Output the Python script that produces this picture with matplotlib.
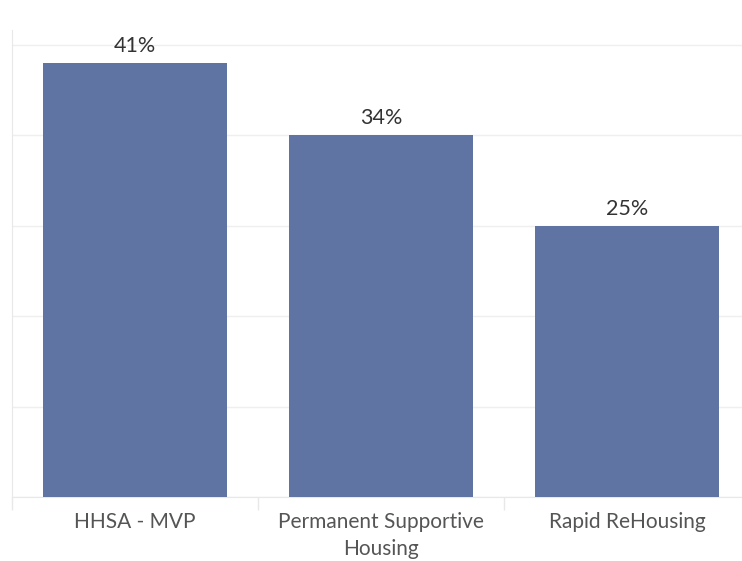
import numpy as np
import matplotlib.pyplot as plt
from matplotlib.ticker import MultipleLocator, FixedLocator

programs = ['HHSA - MVP', 'Permanent Supportive\nHousing', 'Rapid ReHousing']
counts = [48, 40, 30]

bar_color = '#5f74a3'
grid_color = '#efefef'
value_color = '#333333'
label_color = '#555555'

plt.rcParams['font.family'] = ['Lato', 'DejaVu Sans']

W, H = 742, 561
fig = plt.figure(figsize=(W / 100, H / 100), dpi=100)
# axes placed in pixel terms: left axis line at x=12, baseline at y=497
left, bottom, top = 12, 497, 30
ax = fig.add_axes([left / W, (H - bottom) / H, 738 / W, (bottom - top) / H])

x = np.arange(len(programs))
total = sum(counts)
bars = ax.bar(x, counts, width=0.75, color=bar_color, zorder=3)

for b, c in zip(bars, counts):
    ax.annotate(f'{round(100 * c / total)}%', (b.get_x() + b.get_width() / 2, c),
                xytext=(0, 5), textcoords='offset points', ha='center', va='bottom',
                fontsize=15.5, color=value_color)

ax.set_xlim(-0.5, 2.5)
ax.set_ylim(0, (bottom - top) / 9.04)

ax.yaxis.set_major_locator(MultipleLocator(10))
ax.grid(axis='y', color=grid_color, linewidth=1, zorder=0)
ax.tick_params(axis='y', left=False, labelleft=False)

ax.set_xticks(x)
ax.set_xticklabels(programs, fontsize=15, color=label_color, linespacing=1.45)
ax.tick_params(axis='x', which='major', length=0, pad=11)
ax.xaxis.set_minor_locator(FixedLocator([-0.5, 0.5, 1.5]))
ax.tick_params(axis='x', which='minor', length=9, width=1, color='#e8e8e8', direction='out')

for s in ['top', 'right']:
    ax.spines[s].set_visible(False)
ax.spines['left'].set_color('#e8e8e8')
ax.spines['bottom'].set_color('#e8e8e8')

fig.savefig('out.png', dpi=100, facecolor='white')
